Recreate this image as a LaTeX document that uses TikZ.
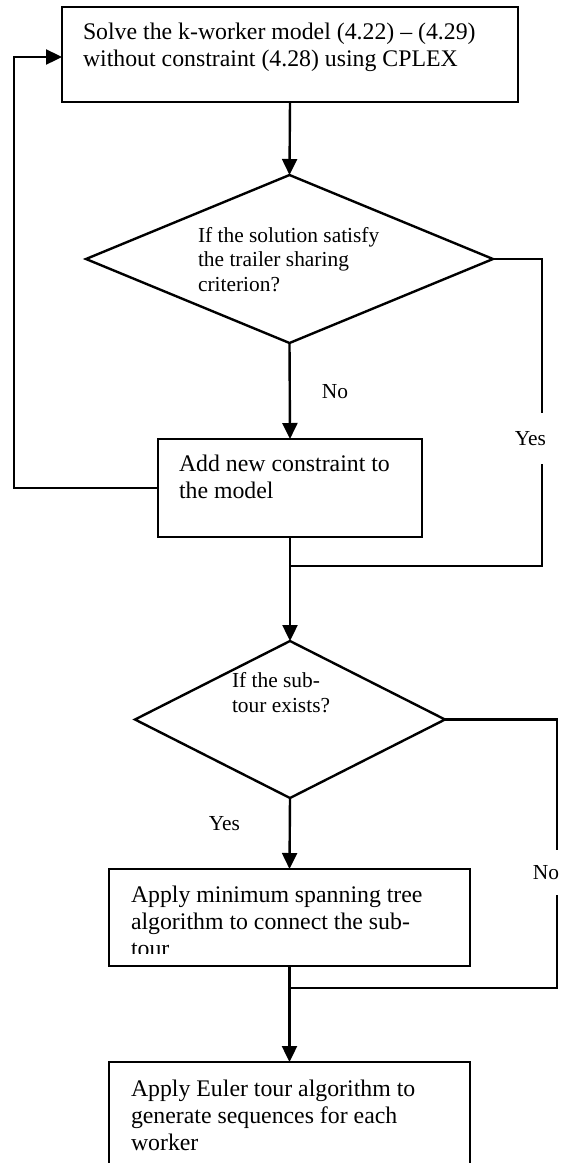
\documentclass[tikz,border=0pt]{standalone}
\usepackage{fontspec}
\setmainfont{Liberation Serif}
\usetikzlibrary{arrows.meta,shapes.geometric}
\begin{document}
\begin{tikzpicture}[x=1pt,y=-1pt,
  every node/.style={inner sep=0pt,outer sep=0pt},
  flow/.style={line width=2.4pt},
  arrowline/.style={flow,-{Triangle[length=16pt,width=15pt]}},
  stepbox/.style={draw,line width=2.4pt,rectangle,anchor=north west},
  decision/.style={draw,line width=2.4pt,diamond},
  % multi-line texts are placed by the baseline of their last line
  boxtext/.style={anchor=base west,font=\fontsize{23.8}{27}\selectfont,align=left},
  dectext/.style={anchor=base west,font=\fontsize{21.4}{24.5}\selectfont,align=left},
  lbl/.style={font=\fontsize{21.4}{24}\selectfont},
  gaplbl/.style={lbl,fill=white}]
\useasboundingbox (0,0) rectangle (566,1163);
\clip (0,0) rectangle (566,1163);

% process boxes and decisions
\node[stepbox,minimum width=456,minimum height=95] (b1) at (62,7) {};
\node[decision,minimum width=407,minimum height=168] (d1) at (289.5,259) {};
\node[stepbox,minimum width=264,minimum height=98] (b2) at (158,439) {};
\node[decision,minimum width=310,minimum height=157] (d2) at (290,719.5) {};
\node[stepbox,minimum width=361,minimum height=97] (b3) at (109,869) {};
\node[stepbox,minimum width=361,minimum height=140] (b4) at (109,1062) {};

% texts
\node[boxtext] (t1) at (83,66) {Solve the k-worker model (4.22) – (4.29)\\without constraint (4.28) using CPLEX};
\node[dectext] (td1) at (198,291) {If the solution satisfy\\the trailer sharing\\criterion?};
\node[boxtext] (t2) at (179,498) {Add new constraint to\\the model};
\node[dectext] (td2) at (232,712) {If the sub-\\tour exists?};
\begin{scope}
  \clip (b3.north west) rectangle ([yshift=13pt]b3.south east);
  \node[boxtext] (t3) at (131,956) {Apply minimum spanning tree\\algorithm to connect the sub-\\tour};
\end{scope}
\node[boxtext] (t4) at (131,1150) {Apply Euler tour algorithm to\\generate sequences for each\\worker};

% routing points
\coordinate (loop) at (14,0);
\coordinate (yesx) at (542,0);
\coordinate (nox) at (557,0);
\coordinate (j1) at (290,566);
\coordinate (j2) at (290,988);

% connectors
\draw[arrowline] (b1.south) -- (d1.north);
\draw[arrowline] (d1.south) -- (b2.north);
\draw[arrowline] (b2.west) -- (b2.west -| loop) -- ([yshift=-2.5pt]b1.west -| loop) -- ([yshift=-2.5pt]b1.west);
\draw[flow] (d1.east) -- (d1.east -| yesx) |- (j1);
\draw[arrowline] (b2.south) -- (d2.north);
\draw[arrowline] (d2.south) -- (b3.north);
\draw[flow] (d2.east) -- (d2.east -| nox) |- (j2);
\draw[arrowline] (b3.south) -- (b4.north);

% branch labels
\node[lbl,anchor=base] (no1) at (335,398) {No};
\node[gaplbl,minimum height=51] (yes1) at (530.5,438.5) {Yes};
\node[lbl,anchor=base] (yes2) at (224.5,830) {Yes};
\node[gaplbl,minimum height=45] (no2) at (546,872.5) {No};
\end{tikzpicture}
\end{document}
